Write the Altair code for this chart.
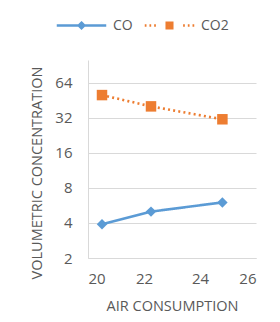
import altair as alt
import pandas as pd

series = ["CO", "CO", "CO", "CO2", "CO2", "CO2"]
air = [20.5, 22.25, 24.8, 20.5, 22.25, 24.8]
conc = [3.9, 5.0, 6.0, 50, 40, 31]

names = ["CO", "CO2"]
colors = ["#5B9BD5", "#ED7D31"]

df = pd.DataFrame({"series": series, "air": air, "conc": conc})

GRAY = "#595959"
FONT = "Open Sans"

x = alt.X("air:Q", scale=alt.Scale(domain=[20, 26], nice=False, zero=False),
          axis=alt.Axis(values=[20, 22, 24, 26], title="AIR CONSUMPTION", grid=False,
                        ticks=False, domainColor="#D9D9D9", labelPadding=13,
                        titlePadding=13))
y = alt.Y("conc:Q", scale=alt.Scale(type="log", base=2, domain=[2, 100], nice=False),
          axis=alt.Axis(values=[2, 4, 8, 16, 32, 64], title="VOLUMETRIC CONCENTRATION",
                        grid=True, gridColor="#D9D9D9", ticks=False,
                        domainColor="#D9D9D9", labelPadding=16,
                        titleX=-47, titleY=112.5, titleBaseline="alphabetic"))

# legend symbols drawn as stroked paths (unit = half symbol width)
marker_lines = "M0,-0.11L0.11,0L0,0.11L-0.11,0ZM0,-0.11L0,0.11"
co_sym = "M-1,0L1,0" + marker_lines
dots = "".join(f"M{v:.2f},0L{v+0.07:.2f},0" for v in [-1.0, -0.81, -0.62, 0.55, 0.74, 0.93])
co2_sym = dots + "M-0.11,-0.11L0.11,-0.11L0.11,0.11L-0.11,0.11ZM-0.11,0L0.11,0M0,-0.11L0,0.11"

color_scale = alt.Scale(domain=names, range=colors)

lines = alt.Chart(df).mark_line(strokeWidth=2.6).encode(
    x=x, y=y,
    color=alt.Color("series:N", scale=color_scale, legend=None),
    strokeDash=alt.StrokeDash("series:N", scale=alt.Scale(domain=names, range=[[1, 0], [2, 3.2]]), legend=None),
)

points = alt.Chart(df).mark_point(filled=True, opacity=1).encode(
    x=x, y=y,
    color=alt.Color("series:N", scale=color_scale, legend=None),
    shape=alt.Shape("series:N", scale=alt.Scale(domain=names, range=["diamond", "square"]), legend=None),
)


def legend_layer(idx, sym, lx):
    return alt.Chart(df).mark_point(filled=False, opacity=0, color=colors[idx]).encode(
        x=x, y=y,
        size=alt.Size("series:O", scale=alt.Scale(domain=names, range=[2450, 2450]),
                      legend=alt.Legend(title=None, orient="none", legendX=lx, legendY=-61,
                                        values=[names[idx]], symbolType=sym, symbolSize=2450,
                                        symbolFillColor=colors[idx], symbolStrokeColor=colors[idx],
                                        symbolStrokeWidth=2.6, symbolOpacity=1, padding=0,
                                        labelFont=FONT, labelFontSize=14, labelColor=GRAY,
                                        labelOffset=5)),
    )


leg_a = legend_layer(0, co_sym, -33)
leg_b = legend_layer(1, co2_sym, 55)

chart = alt.layer(lines, points, leg_a, leg_b).resolve_scale(size="independent").properties(
    width=168, height=198,
    autosize=alt.AutoSizeParams(type="none"),
    padding={"left": 80, "top": 52, "right": 16, "bottom": 56},
).configure_view(stroke=None).configure_axis(
    labelFont=FONT, labelFontSize=15, labelColor=GRAY,
    titleFont=FONT, titleFontSize=14.5, titleColor=GRAY, titleFontWeight="normal",
    domainWidth=1,
).configure_point(size=110)

chart.save("out.html", embed_options={"renderer": "svg", "actions": False})
